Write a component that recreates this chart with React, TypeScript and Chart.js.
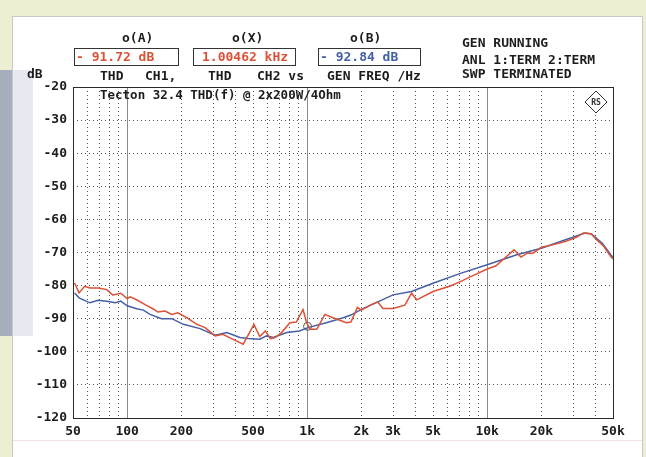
import React, { useEffect, useRef } from 'react';
import { Chart, registerables } from 'chart.js';

Chart.register(...registerables);

// ---- data ----
const redFreq = [51, 54, 58, 62, 69, 77, 83, 86, 92, 100, 104, 112, 128, 139, 148, 162, 177, 191, 214, 244, 271, 308, 340, 380, 441, 506, 545, 586, 623, 664, 721, 801, 871, 948, 993, 1038, 1130, 1254, 1390, 1652, 1750, 1900, 2000, 2241, 2466, 2631, 3000, 3488, 3800, 4060, 5000, 6240, 7100, 8100, 10000, 11200, 12800, 14100, 15400, 16700, 18000, 20000, 23100, 27100, 31300, 34200, 37700, 40700, 44500, 48600, 50000];
const redDb = [-79.2, -82.2, -80.2, -80.7, -80.7, -81.2, -82.8, -82.7, -82.3, -83.9, -83.4, -84.2, -86.0, -87.0, -88.0, -87.7, -88.7, -88.2, -89.7, -91.7, -92.7, -95.2, -94.7, -96.0, -97.7, -91.7, -95.4, -93.7, -96.0, -95.7, -94.2, -91.2, -91.0, -87.2, -91.2, -93.2, -93.2, -88.7, -89.7, -91.2, -91.0, -86.6, -87.4, -85.9, -84.9, -86.9, -86.9, -85.9, -82.3, -84.3, -81.8, -80.1, -78.8, -77.3, -75.0, -74.0, -71.2, -69.2, -71.4, -70.2, -70.2, -68.4, -67.7, -66.7, -65.4, -64.1, -64.3, -66.2, -68.2, -71.2, -72.0];

const blueFreq = [51, 54, 62, 69, 77, 86, 92, 100, 113, 123, 134, 155, 177, 205, 254, 308, 357, 423, 470, 546, 594, 648, 770, 906, 1010, 1277, 1587, 1750, 2000, 3000, 3800, 5000, 7100, 10000, 14600, 20000, 27000, 35000, 38000, 43600, 48600, 50000];
const blueDb = [-82.2, -83.7, -85.2, -84.4, -84.7, -85.2, -84.7, -86.1, -87.0, -87.4, -88.7, -90.0, -90.0, -91.7, -93.0, -95.0, -94.2, -95.7, -96.0, -96.2, -95.2, -95.7, -94.2, -93.7, -92.7, -91.2, -89.7, -88.9, -87.2, -82.8, -81.8, -79.3, -76.3, -73.7, -70.7, -68.7, -66.2, -64.1, -64.4, -67.2, -70.7, -71.5];

const cursorFreq = [1004.62];
const cursorDb = [-92.3];

const xGridValues = [50, 60, 70, 80, 90, 100, 200, 300, 400, 500, 600, 700, 800, 900, 1000, 2000, 3000, 4000, 5000, 6000, 7000, 8000, 9000, 10000, 20000, 30000, 40000, 50000];
const xLabelValues = [50, 100, 200, 500, 1000, 2000, 3000, 5000, 10000, 20000, 50000];
const xLabelTexts = ['50', '100', '200', '500', '1k', '2k', '3k', '5k', '10k', '20k', '50k'];
const decadeLines = [100, 1000, 10000];
const yTickValues = [-120, -110, -100, -90, -80, -70, -60, -50, -40, -30, -20];

const titleText = 'Tecton 32.4 THD(f) @ 2x200W/4Ohm';

const MONO = '"DejaVu Sans Mono", "Liberation Mono", monospace';
const RED = '#db5236';
const BLUE = '#4560a6';
const TXT = '#1c1c1c';

const decorPlugin = {
  id: 'decor',
  beforeDraw(chart: any) {
    const ctx = chart.ctx;
    ctx.save();
    // page background
    ctx.fillStyle = '#eeeed2';
    ctx.fillRect(0, 0, 646, 457);
    // panel
    ctx.fillStyle = '#ffffff';
    ctx.fillRect(12, 16, 631, 441);
    ctx.strokeStyle = '#c9c9c9';
    ctx.lineWidth = 1;
    ctx.strokeRect(12.5, 16.5, 630, 450);
    // left block
    ctx.fillStyle = '#a7afbf';
    ctx.fillRect(0, 70, 12, 266);
    ctx.fillStyle = '#e6e9ef';
    ctx.fillRect(13, 70, 20, 266);
    // faint bottom line
    ctx.strokeStyle = '#f1e2e2';
    ctx.beginPath();
    ctx.moveTo(13, 440.5);
    ctx.lineTo(642, 440.5);
    ctx.stroke();

    // header text
    ctx.textBaseline = 'middle';
    ctx.textAlign = 'left';
    ctx.font = 'bold 13px ' + MONO;
    const t = (s: string, x: number, y: number, c = TXT) => {
      ctx.fillStyle = c;
      ctx.fillText(s, x, y);
    };
    t('o(A)', 122, 39);
    t('o(X)', 232, 39);
    t('o(B)', 350, 39);
    ctx.strokeStyle = '#333';
    ctx.lineWidth = 1;
    ctx.strokeRect(74.5, 48.5, 104, 17);
    ctx.strokeRect(193.5, 48.5, 102, 17);
    ctx.strokeRect(318.5, 48.5, 102, 17);
    t('- 91.72 dB', 76, 57.5, RED);
    t('1.00462 kHz', 202, 57.5, RED);
    t('- 92.84 dB', 320, 57.5, BLUE);
    t('THD', 100, 77);
    t('CH1,', 145, 77);
    t('THD', 208, 77);
    t('CH2 vs', 257, 77);
    t('GEN FREQ /Hz', 327, 77);
    t('GEN RUNNING', 462, 44);
    t('ANL 1:TERM 2:TERM', 462, 61);
    t('SWP TERMINATED', 462, 75);
    t('dB', 27, 75);
    ctx.restore();
  },
  beforeDatasetsDraw(chart: any) {
    const ctx = chart.ctx;
    const xs = chart.scales.x;
    const a = chart.chartArea;
    ctx.save();
    ctx.strokeStyle = '#8a8a8a';
    ctx.lineWidth = 1;
    decadeLines.forEach((f) => {
      const px = Math.round(xs.getPixelForValue(f)) + 0.5;
      ctx.beginPath();
      ctx.moveTo(px, a.top);
      ctx.lineTo(px, a.bottom);
      ctx.stroke();
    });
    // title
    ctx.font = 'bold 12.5px ' + MONO;
    ctx.fillStyle = TXT;
    ctx.textBaseline = 'middle';
    ctx.fillText(titleText, a.left + 27, a.top + 9);
    // R&S logo
    const cx = a.right - 17, cy = a.top + 15, r = 11;
    ctx.strokeStyle = '#333';
    ctx.fillStyle = '#fff';
    ctx.beginPath();
    ctx.moveTo(cx, cy - r);
    ctx.lineTo(cx + r, cy);
    ctx.lineTo(cx, cy + r);
    ctx.lineTo(cx - r, cy);
    ctx.closePath();
    ctx.fill();
    ctx.stroke();
    ctx.font = 'bold 8px ' + MONO;
    ctx.fillStyle = '#333';
    ctx.textAlign = 'center';
    ctx.fillText('RS', cx, cy + 0.5);
    ctx.restore();
  },
  afterDraw(chart: any) {
    const ctx = chart.ctx;
    const a = chart.chartArea;
    ctx.save();
    ctx.strokeStyle = '#2a2a2a';
    ctx.lineWidth = 1;
    ctx.strokeRect(Math.round(a.left) + 0.5, Math.round(a.top) + 0.5, Math.round(a.right - a.left), Math.round(a.bottom - a.top));
    ctx.restore();
  },
};

export default function App() {
  const ref = useRef<HTMLCanvasElement>(null);
  useEffect(() => {
    if (!ref.current) return;
    const toPts = (fs: number[], ds: number[]) => fs.map((f, i) => ({ x: f, y: ds[i] }));
    const tickFont = { family: MONO, size: 13, weight: 'bold' as const };
    const chart = new Chart(ref.current, {
      type: 'line',
      data: {
        datasets: [
          { label: 'CH1', data: toPts(redFreq, redDb), borderColor: RED, borderWidth: 1.5, pointRadius: 0, tension: 0, fill: false },
          { label: 'CH2', data: toPts(blueFreq, blueDb), borderColor: BLUE, borderWidth: 1.5, pointRadius: 0, tension: 0, fill: false },
          { label: 'cursor', data: toPts(cursorFreq, cursorDb), showLine: false, pointRadius: 4, pointStyle: 'circle', borderColor: '#555', backgroundColor: 'rgba(0,0,0,0)', borderWidth: 1 },
        ],
      },
      options: {
        responsive: false,
        animation: false,
        layout: { padding: { left: 0, right: 33, top: 87, bottom: 0 } },
        plugins: { legend: { display: false }, tooltip: { enabled: false } },
        scales: {
          x: {
            type: 'logarithmic',
            min: 50,
            max: 50000,
            afterBuildTicks: (s: any) => {
              s.ticks = xGridValues.map((v) => ({ value: v }));
            },
            afterFit: (s: any) => {
              s.height = 39;
            },
            ticks: {
              autoSkip: false,
              maxRotation: 0,
              minRotation: 0,
              padding: 6,
              color: TXT,
              font: tickFont,
              callback: (v: any) => {
                const i = xLabelValues.indexOf(Number(v));
                return i >= 0 ? xLabelTexts[i] : '';
              },
            },
            grid: { color: '#555555', lineWidth: 1, drawTicks: false },
            border: { display: false, dash: [1, 3] },
          },
          y: {
            type: 'linear',
            min: -120,
            max: -20,
            afterBuildTicks: (s: any) => {
              s.ticks = yTickValues.map((v) => ({ value: v }));
            },
            afterFit: (s: any) => {
              s.width = 73;
            },
            ticks: {
              padding: 6,
              color: TXT,
              font: tickFont,
              callback: (v: any) => String(v),
            },
            grid: { color: '#555555', lineWidth: 1, drawTicks: false },
            border: { display: false, dash: [1, 3] },
          },
        },
      },
      plugins: [decorPlugin],
    } as any);
    return () => chart.destroy();
  }, []);
  return (
    <div style={{ position: 'absolute', left: 0, top: 0, width: 646, height: 457 }}>
      <canvas ref={ref} width={646} height={457} style={{ width: 646, height: 457, display: 'block' }} />
    </div>
  );
}
